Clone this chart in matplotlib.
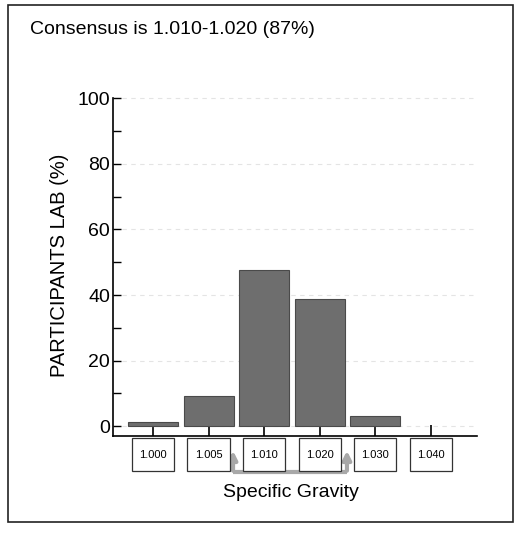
import matplotlib.pyplot as plt
import matplotlib.patches as mpatches

categories = ['1.000', '1.005', '1.010', '1.020', '1.030', '1.040']
percent = [1.2, 9.1, 47.5, 38.7, 3.0, 0.0]
title = 'Consensus is 1.010-1.020 (87%)'
consensus = ['1.010', '1.020']

plt.rcParams['font.family'] = ['Liberation Sans', 'DejaVu Sans']

fig = plt.figure(figsize=(5.21, 5.33), dpi=100)
ax = fig.add_axes([113/521, 1-436/533, (477-113)/521, (436-95)/533])

x = list(range(len(categories)))
edges = ['#4a4a4a' if p > 0 else 'none' for p in percent]
ax.bar(x, percent, width=0.9, color='#6e6e6e', edgecolor=edges, linewidth=0.8, zorder=3)

ax.set_xlim(-0.72, 5.83)
ax.set_ylim(-3, 101)
ax.set_yticks([0, 20, 40, 60, 80, 100])
ax.set_yticks([10, 30, 50, 70, 90], minor=True)
ax.tick_params(axis='y', which='both', direction='in', length=6, width=1, labelsize=14, pad=2)
ax.set_xticks(x)
ax.set_xticklabels([])
ax.tick_params(axis='x', direction='in', length=8, width=1.2)
ax.yaxis.grid(True, color='#e4e4e4', linestyle=(0, (4, 4)), linewidth=0.8, zorder=0)
for s in ['top', 'right']:
    ax.spines[s].set_visible(False)
ax.spines['left'].set_bounds(-3, 100)
ax.spines['left'].set_linewidth(1.2)
ax.spines['bottom'].set_linewidth(1.2)

ax.set_ylabel('PARTICIPANTS LAB (%)', fontsize=14.5, labelpad=6)

# boxed category labels under the axis
trans = ax.get_xaxis_transform()
for i, c in enumerate(categories):
    ax.add_patch(mpatches.Rectangle((i - 0.38, -0.006), 0.76, -0.097, transform=trans,
                                    facecolor='white', edgecolor='#333333', lw=0.9, clip_on=False, zorder=4))
    ax.text(i, -0.055, c, transform=trans, ha='center', va='center', fontsize=8, zorder=5)

# consensus range arrows
i0 = categories.index(consensus[0]) - 0.56
i1 = categories.index(consensus[1]) + 0.49
gray = '#a8a8a8'
ax.plot([i0, i1], [-0.106, -0.106], transform=trans, color=gray, lw=3, clip_on=False,
        solid_capstyle='butt', zorder=2)
for xi in [i0, i1]:
    ax.annotate('', xy=(xi, -0.035), xytext=(xi, -0.11), xycoords=trans, textcoords=trans,
                arrowprops=dict(arrowstyle='-|>', color=gray, lw=3, mutation_scale=12), zorder=2)

ax.text(2.48, -0.167, 'Specific Gravity', transform=trans, ha='center', va='center', fontsize=14)

fig.text(30/521, 1-30/533, title, fontsize=14, va='center')
fig.patches.append(mpatches.Rectangle((8/521, 11/533), 505/521, 517/533, transform=fig.transFigure,
                                      fill=False, edgecolor='#222222', lw=1.2))

fig.savefig('out.png', dpi=100)
